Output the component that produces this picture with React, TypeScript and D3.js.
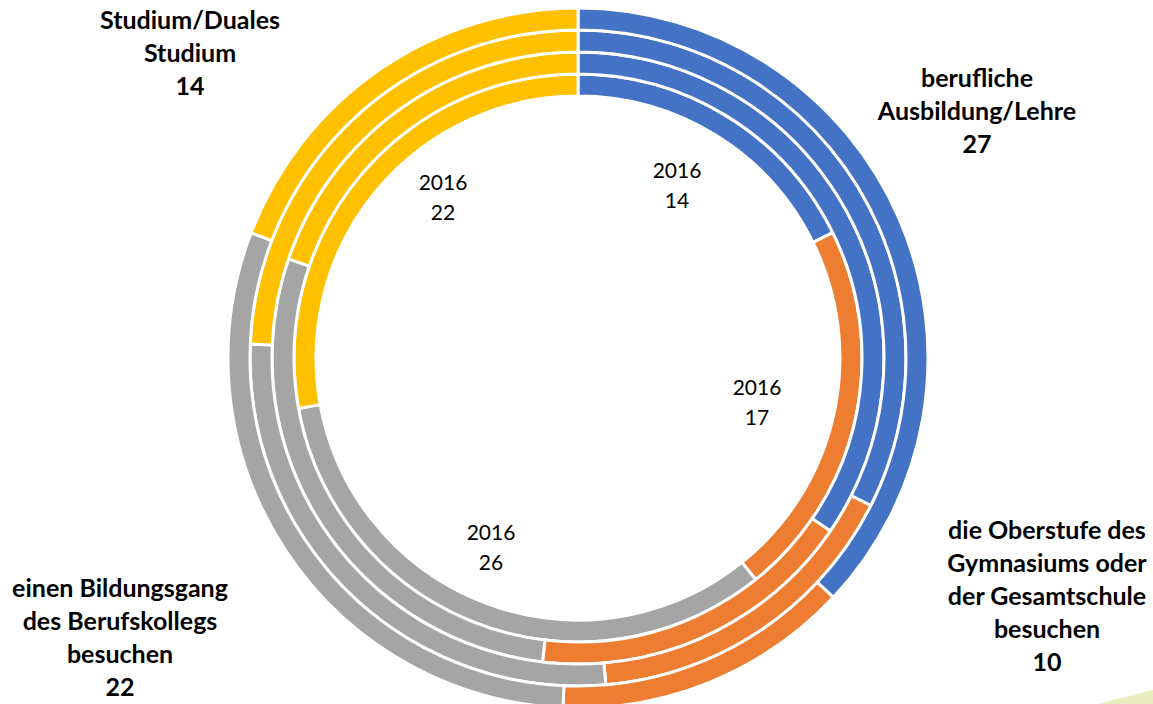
import { useMemo } from "react";
import * as d3 from "d3";

// categories in clockwise order starting at 12 o'clock
const CATEGORIES = [
  "berufliche Ausbildung/Lehre",
  "die Oberstufe des Gymnasiums oder der Gesamtschule besuchen",
  "einen Bildungsgang des Berufskollegs besuchen",
  "Studium/Duales Studium",
];

// line breaks used for the outer labels
const CATEGORY_LINES = [
  ["berufliche", "Ausbildung/Lehre"],
  ["die Oberstufe des", "Gymnasiums oder", "der Gesamtschule", "besuchen"],
  ["einen Bildungsgang", "des Berufskollegs", "besuchen"],
  ["Studium/Duales", "Studium"],
];

// rings from inside to outside
const YEARS = ["2016", "2017", "2018", "2019"];
const VALUES_2016 = [14, 17, 26, 22];
const VALUES_2017 = [28, 14, 23, 16];
const VALUES_2018 = [24, 12, 20, 18];
const VALUES_2019 = [27, 10, 22, 14];
const SERIES = [VALUES_2016, VALUES_2017, VALUES_2018, VALUES_2019];

const COLORS = ["#4472C4", "#ED7D31", "#A5A5A5", "#FFC000"];

const WIDTH = 1153;
const HEIGHT = 704;
const CX = 578;
const CY = 358;
const INNER_R = 262;
const RING = 22;

// label anchors relative to chart centre (centre x, first baseline)
const INNER_LABEL_POS: [number, number][] = [
  [99, -180],
  [179, 37],
  [-87, 182],
  [-135, -168],
];
const OUTER_LABEL_POS: [number, number][] = [
  [399, -271],
  [469, 181],
  [-458, 239],
  [-388, -329],
];

const FONT = "Lato, 'Open Sans', sans-serif";

export default function App() {
  const rings = useMemo(() => {
    const pie = d3
      .pie<number>()
      .value((d) => d)
      .sort(null);
    return SERIES.map((vals, i) => {
      const arc = d3
        .arc<d3.PieArcDatum<number>>()
        .innerRadius(INNER_R + i * RING)
        .outerRadius(INNER_R + (i + 1) * RING);
      return pie(vals).map((d) => ({ d: arc(d) || "", index: d.index }));
    });
  }, []);

  const last = SERIES.length - 1;

  return (
    <svg
      width={WIDTH}
      height={HEIGHT}
      style={{ position: "absolute", left: 0, top: 0, background: "#fff" }}
    >
      <polygon points="1098,704 1153,690 1153,704" fill="#e9edc0" />
      <g transform={`translate(${CX},${CY})`}>
        {rings.map((ring, i) =>
          ring.map((s) => (
            <path
              key={`${i}-${s.index}`}
              d={s.d}
              fill={COLORS[s.index]}
              stroke="#fff"
              strokeWidth={3}
              strokeLinejoin="miter"
            />
          ))
        )}
        {VALUES_2016.map((v, i) => (
          <text
            key={`in-${i}`}
            x={INNER_LABEL_POS[i][0]}
            y={INNER_LABEL_POS[i][1]}
            textAnchor="middle"
            fontFamily={FONT}
            fontSize={21}
            fill="#000"
          >
            <tspan x={INNER_LABEL_POS[i][0]}>{YEARS[0]}</tspan>
            <tspan x={INNER_LABEL_POS[i][0]} dy={30}>
              {v}
            </tspan>
          </text>
        ))}
        {SERIES[last].map((v, i) => (
          <text
            key={`out-${i}`}
            x={OUTER_LABEL_POS[i][0]}
            y={OUTER_LABEL_POS[i][1]}
            textAnchor="middle"
            fontFamily={FONT}
            fontSize={25}
            fontWeight="bold"
            fill="#000"
          >
            {[...CATEGORY_LINES[i], String(v)].map((line, j) => (
              <tspan key={j} x={OUTER_LABEL_POS[i][0]} dy={j === 0 ? 0 : 33}>
                {line}
              </tspan>
            ))}
          </text>
        ))}
      </g>
    </svg>
  );
}
